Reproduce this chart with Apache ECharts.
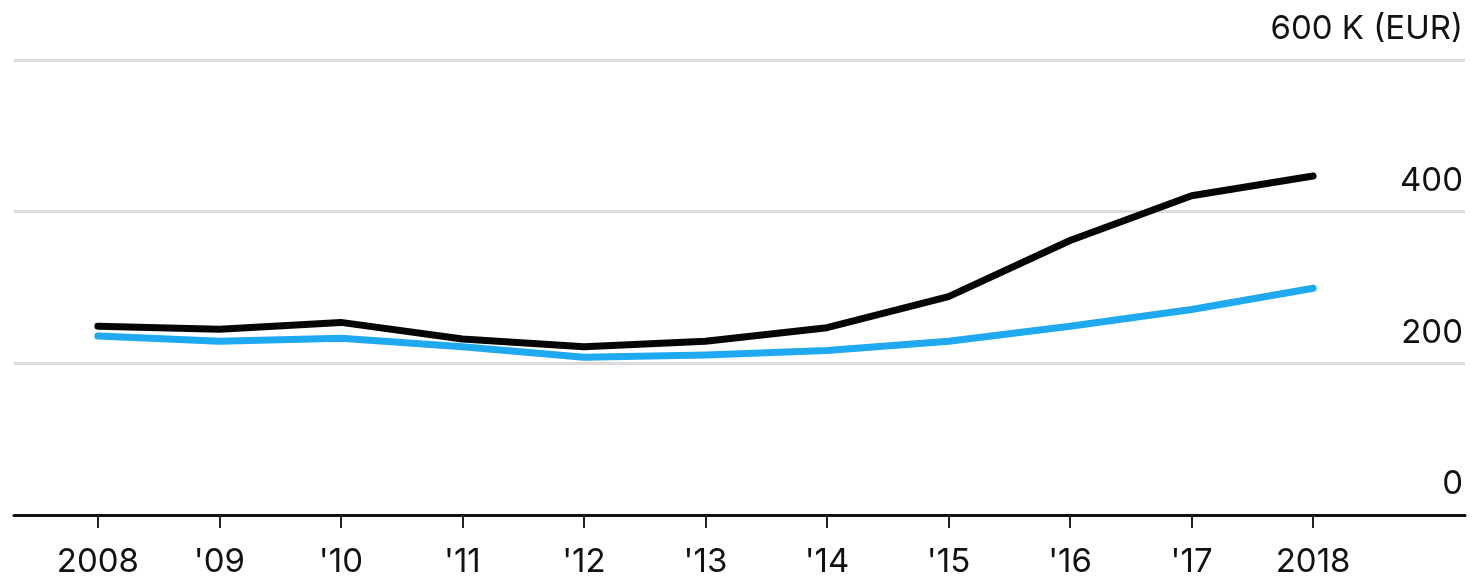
<!DOCTYPE html>
<html>
<head>
<meta charset="utf-8">
<script src="https://cdn.jsdelivr.net/npm/echarts@6/dist/echarts.min.js"></script>
<style>
html,body{margin:0;padding:0;background:#fff;}
#c{width:1472px;height:581px;}
</style>
</head>
<body>
<div id="c"></div>
<script>
var years = [2008, 2009, 2010, 2011, 2012, 2013, 2014, 2015, 2016, 2017, 2018];
var xTickLabels = ["2008", "'09", "'10", "'11", "'12", "'13", "'14", "'15", "'16", "'17", "2018"];
var blackSeries = [249, 245, 254, 232, 222, 229, 247, 288, 362, 421, 447];
var blueSeries = [236, 229, 233, 222, 208, 211, 217, 229, 249, 271, 299];
var yTicks = [0, 200, 400, 600];
var yTopLabel = "600 K (EUR)";

var FONT = "Inter, 'Liberation Sans', Arial, sans-serif";

function pairs(vals) {
  return years.map(function (y, i) { return [y, vals[i]]; });
}

var chart = echarts.init(document.getElementById('c'), null, { renderer: 'canvas' });
chart.setOption({
  animation: false,
  backgroundColor: '#ffffff',
  grid: { left: 14, right: 7, top: 60, bottom: 66, containLabel: false },
  xAxis: {
    type: 'value',
    min: 2007.31,
    max: 2019.25,
    axisLine: { show: true, lineStyle: { color: '#111', width: 3 } },
    axisTick: { show: true, customValues: years, length: 13, lineStyle: { color: '#222', width: 2 } },
    axisLabel: {
      show: true,
      customValues: years,
      margin: 31,
      color: '#111',
      fontFamily: FONT,
      fontSize: 33,
      formatter: function (v) {
        var i = years.indexOf(Math.round(v));
        return i >= 0 ? xTickLabels[i] : '';
      }
    },
    splitLine: { show: false }
  },
  yAxis: {
    type: 'value',
    position: 'right',
    min: 0,
    max: 600,
    interval: 200,
    axisLine: { show: false },
    axisTick: { show: false },
    axisLabel: {
      inside: true,
      margin: 2,
      color: '#111',
      fontFamily: FONT,
      fontSize: 33,
      verticalAlign: 'bottom',
      padding: [0, 0, 14, 0],
      formatter: function (v) {
        if (v === yTicks[yTicks.length - 1]) return yTopLabel;
        return String(v);
      }
    },
    splitLine: { show: true, lineStyle: { color: '#dcdcdc', width: 3 } }
  },
  series: [
    {
      type: 'line',
      data: pairs(blueSeries),
      showSymbol: false,
      lineStyle: { color: '#1ea9f0', width: 7, cap: 'round', join: 'round' },
      z: 3
    },
    {
      type: 'line',
      data: pairs(blackSeries),
      showSymbol: false,
      lineStyle: { color: '#050505', width: 7, cap: 'round', join: 'round' },
      z: 4
    }
  ]
});
</script>
</body>
</html>
